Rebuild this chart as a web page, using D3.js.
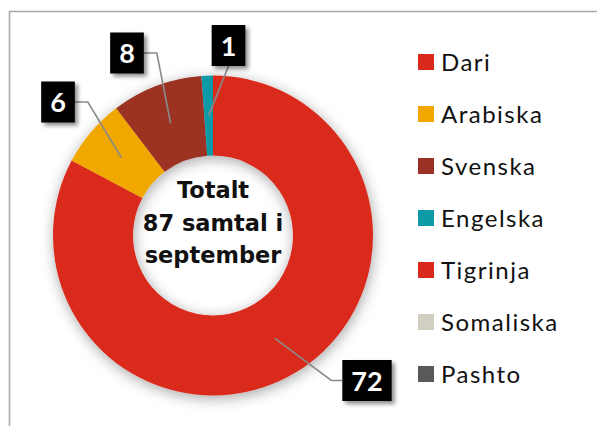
<!DOCTYPE html>
<html><head><meta charset="utf-8">
<script src="https://cdn.jsdelivr.net/npm/d3@7"></script>
<style>html,body{margin:0;padding:0;background:#fff;}svg{display:block;}</style>
</head><body>
<script>
const categories = ["Dari","Arabiska","Svenska","Engelska","Tigrinja","Somaliska","Pashto"];
const values = [72,6,8,1,0,0,0];
const colors = ["#D9291C","#F0A800","#9B3124","#0E9AA7","#D9291C","#D3CEC2","#595959"];
const centerLines = ["Totalt","87 samtal i","september"];
// label box placement (layout only): offset of box centre from donut centre, leader style
const labelLayout = [
  {dx:154, dy:145, side:"left"},
  {dx:-155, dy:-133.5, side:"right"},
  {dx:-86, dy:-182.5, side:"right"},
  {dx:15.5, dy:-190, side:"bottom"},
  null,null,null
];

const W=597,H=426, cx=213, cy=235.5, R=160, r=80;
const svg=d3.select("body").append("svg").attr("width",W).attr("height",H);
const defs=svg.append("defs");
const f1=defs.append("filter").attr("id","glow").attr("x","-30%").attr("y","-30%").attr("width","160%").attr("height","160%");
f1.append("feDropShadow").attr("dx",1).attr("dy",3).attr("stdDeviation",7).attr("flood-color","#000").attr("flood-opacity",0.35);
const f2=defs.append("filter").attr("id","bsh").attr("x","-30%").attr("y","-30%").attr("width","160%").attr("height","160%");
f2.append("feDropShadow").attr("dx",3).attr("dy",3).attr("stdDeviation",2).attr("flood-color","#000").attr("flood-opacity",0.45);

// frame
svg.append("path").attr("d",`M9.5,${H} V11.5 H${W}`).attr("fill","none").attr("stroke","#a8a8a8").attr("stroke-width",1.6);

const pie=d3.pie().sort(null).value(d=>d);
const arcs=pie(values);
const arc=d3.arc().innerRadius(r).outerRadius(R);
const g=svg.append("g").attr("transform",`translate(${cx},${cy})`);
const ring=g.append("g").attr("filter","url(#glow)");
ring.selectAll("path").data(arcs.filter(a=>a.value>0)).join("path")
  .attr("d",arc).attr("fill",d=>colors[d.index]);

// center text
const ct=g.append("text").attr("text-anchor","middle").attr("font-family","'DejaVu Sans', sans-serif").attr("font-weight","bold").attr("font-size",22.5).attr("fill","#111");
centerLines.forEach((t,i)=>ct.append("tspan").attr("x",0).attr("y",-37.5+i*32.5).text(t));

// labels
arcs.forEach(a=>{
  const L=labelLayout[a.index];
  if(!L||a.value<=0) return;
  const [px,py]=arc.centroid(a);
  const lg=g.append("g");
  const txt=lg.append("text").attr("font-family","Lato, sans-serif").attr("font-weight","bold").attr("font-size",27).attr("fill","#fff").attr("text-anchor","middle").text(a.value);
  const tw=txt.node().getComputedTextLength();
  const bw=Math.max(32,tw+18), bh=41;
  const bx=L.dx-bw/2, by=L.dy-bh/2;
  let pts;
  if(L.side==="right") pts=[[px,py],[bx+bw+13,L.dy],[bx+bw,L.dy]];
  else if(L.side==="left") pts=[[px,py],[bx-11,L.dy],[bx,L.dy]];
  else pts=[[px,py],[L.dx,by+bh]];
  lg.insert("path","text").attr("d",d3.line()(pts)).attr("fill","none").attr("stroke","#8a8a8a").attr("stroke-width",1.6);
  lg.insert("rect","text").attr("x",bx).attr("y",by).attr("width",bw).attr("height",bh).attr("fill","#000").attr("filter","url(#bsh)");
  txt.attr("x",L.dx).attr("y",L.dy+10);
});

// legend
const leg=svg.append("g").attr("transform","translate(418,0)");
categories.forEach((c,i)=>{
  const y=62+i*52;
  leg.append("rect").attr("x",0).attr("y",y-8).attr("width",16).attr("height",16).attr("fill",colors[i]);
  leg.append("text").attr("x",23).attr("y",y+9).attr("font-family","Lato, sans-serif").attr("font-size",24).attr("letter-spacing",1.5).attr("fill","#111").text(c);
});
</script>
</body></html>
